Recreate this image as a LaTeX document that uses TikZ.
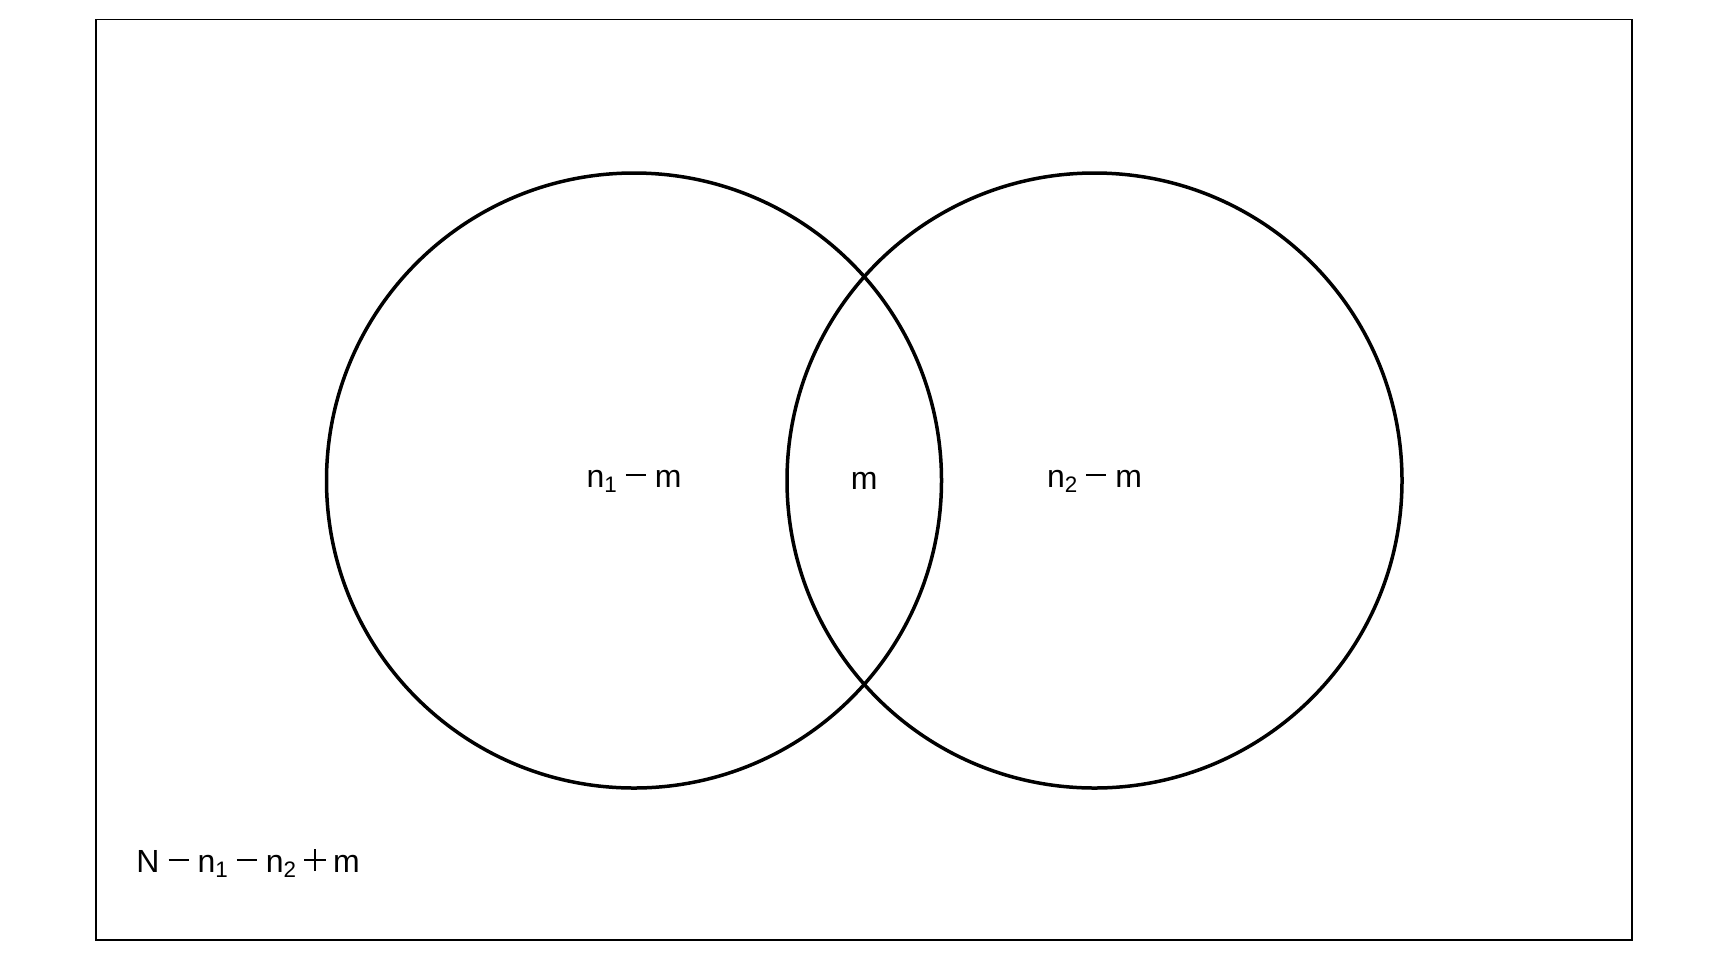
\documentclass[tikz,border=0pt]{standalone}
\usepackage{fontspec}
\setmainfont{Liberation Sans}
\newcommand{\sbx}[1]{\raisebox{-2.6pt}{\fontsize{11.2}{11.2}\selectfont #1}}
\newcommand{\mns}{\hspace{4.5pt}\rule[5.5pt]{10pt}{1.25pt}\hspace{4.5pt}}
\newcommand{\pls}{\hspace{4pt}\makebox[11pt]{\rule[0.4pt]{1.25pt}{11pt}}\llap{\rule[5.3pt]{11pt}{1.25pt}}\hspace{3.5pt}}
\begin{document}
\begin{tikzpicture}[x=0.5pt,y=-0.5pt,
  setcircle/.style={draw=black, line width=1.75pt, circle, minimum size=307.5pt, inner sep=0pt},
  lbl/.style={font=\fontsize{16}{16}\selectfont, inner sep=0pt, anchor=base},
  frame/.style={draw=black, line width=0.8pt}]
\useasboundingbox (0,0) rectangle (1728,960);
\draw[frame] (96,19.5) rectangle (1632,940);
\node[setcircle] (A) at (634,480.5) {};
\node[setcircle] (B) at (1094.5,480.5) {};
\node[lbl] (la) at (634,487) {n\sbx{1}\mns m};
\node[lbl] (lm) at (864.2,489) {m};
\node[lbl] (lb) at (1094.5,487) {n\sbx{2}\mns m};
\node[lbl, anchor=base west] (lo) at (136,872) {N\mns n\sbx{1}\mns n\sbx{2}\pls m};
\end{tikzpicture}
\end{document}
